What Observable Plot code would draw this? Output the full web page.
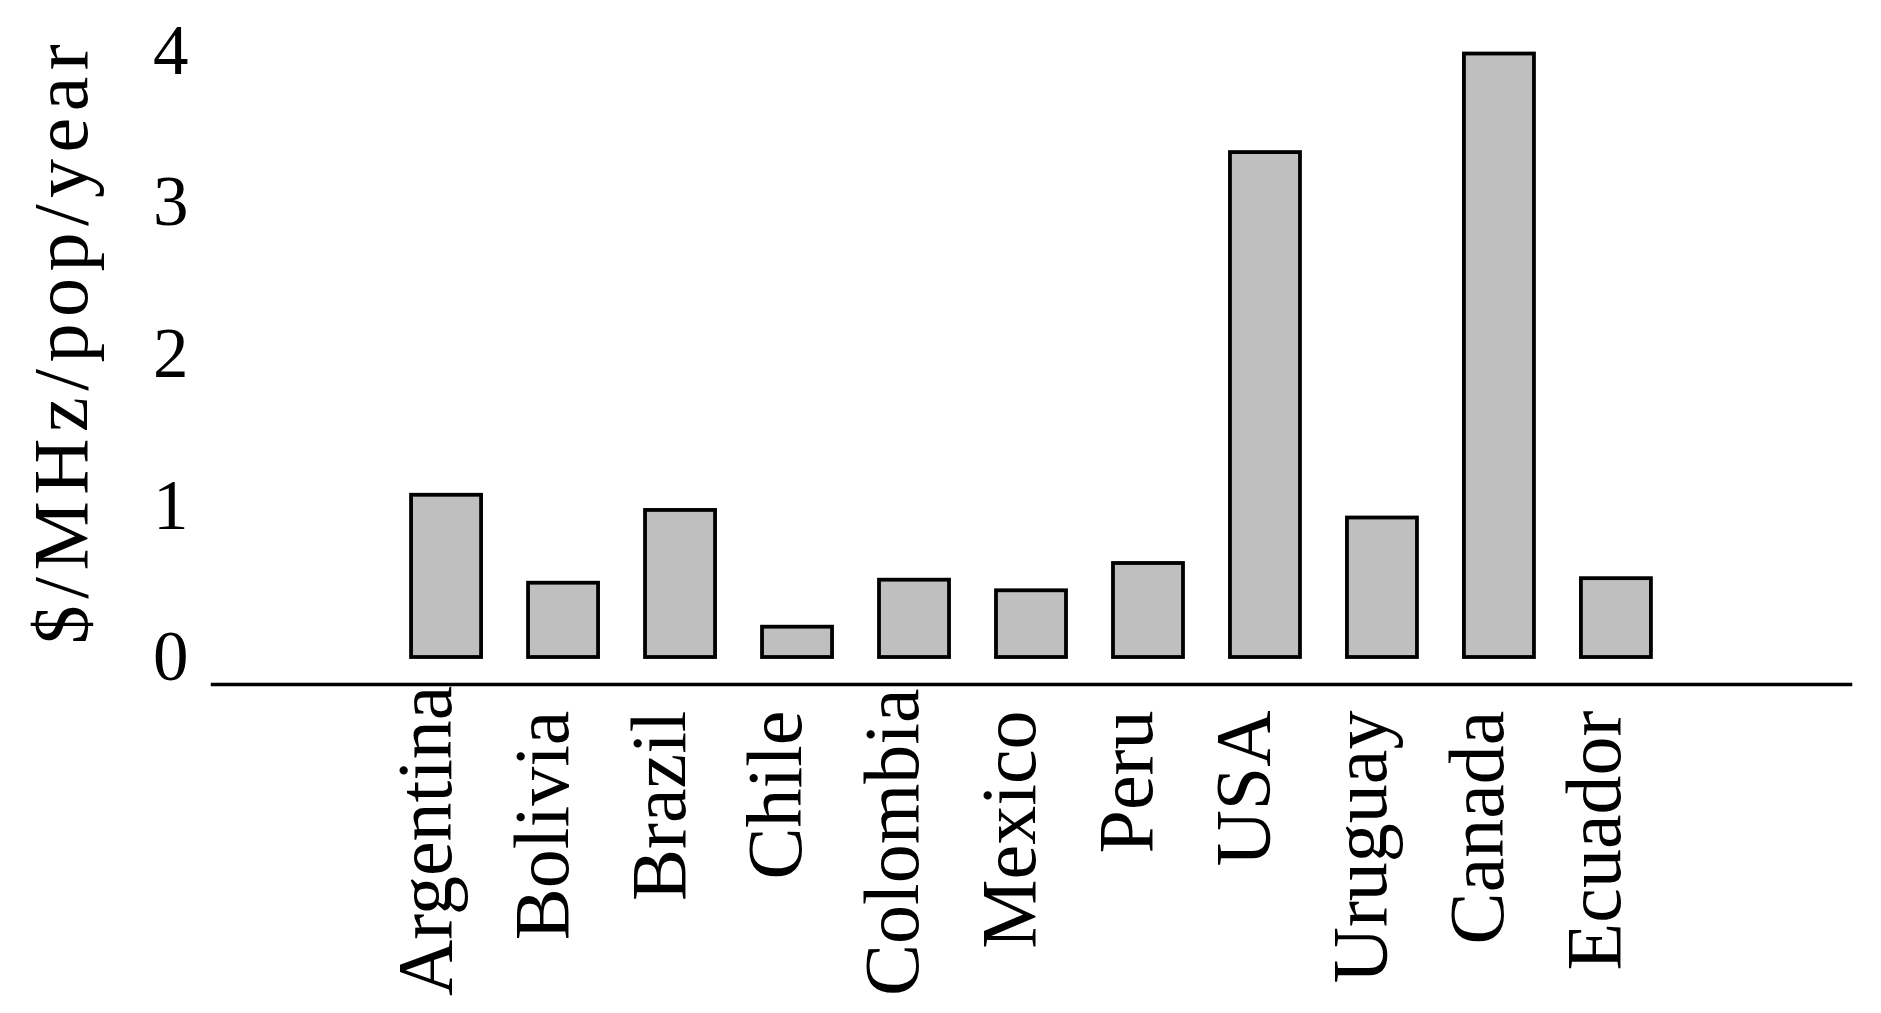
<!DOCTYPE html>
<html>
<head>
<meta charset="utf-8">
<script src="https://cdn.jsdelivr.net/npm/d3@7"></script>
<script src="https://cdn.jsdelivr.net/npm/@observablehq/plot@0.6"></script>
<style>
html, body { margin: 0; padding: 0; background: #fff; }
svg { display: block; }
</style>
</head>
<body>
<div id="chart"></div>
<script>
const countries = ["Argentina", "Bolivia", "Brazil", "Chile", "Colombia", "Mexico", "Peru", "USA", "Uruguay", "Canada", "Ecuador"];
const values = [1.07, 0.49, 0.97, 0.20, 0.51, 0.44, 0.62, 3.33, 0.92, 3.98, 0.52];
const yTicks = [0, 1, 2, 3, 4];
const yLabel = "$/MHz/pop/year";

const data = countries.map((c, i) => ({country: c, value: values[i]}));
const font = "'Liberation Serif', 'Times New Roman', serif";

const chart = Plot.plot({
  width: 1881,
  height: 1013,
  marginLeft: 212,
  marginRight: 31,
  marginTop: 5,
  marginBottom: 329,
  style: {fontFamily: font, background: "#fff", color: "#000", overflow: "visible"},
  x: {domain: countries, paddingInner: 0.4015, paddingOuter: 1.7016, round: false, axis: null},
  y: {domain: [-0.178, 4.30], axis: null},
  marks: [
    Plot.barY(data, {x: "country", y: "value", fill: "#bfbfbf", stroke: "#000", strokeWidth: 3.8}),
    Plot.frame({anchor: "bottom", stroke: "#000", strokeWidth: 3.5}),
    Plot.axisY({ticks: yTicks, tickFormat: d => String(d), anchor: "left", tickSize: 0, tickPadding: 24, fontSize: 71, label: null}),
    Plot.text([yLabel], {text: d => d, frameAnchor: "left", rotate: -90, lineAnchor: "top", textAnchor: "middle", dx: -181, dy: -4, fontSize: 78, fill: "#000"}),
    Plot.text(countries, {x: d => d, text: d => d, frameAnchor: "bottom", rotate: -90, textAnchor: "end", lineAnchor: "middle", dx: -21, dy: 26, fontSize: 78, fill: "#000"})
  ]
});

document.getElementById("chart").appendChild(chart);

// layout tweaks: spacing of the axis title, keep long category labels inside the picture
const texts = Array.from(chart.querySelectorAll("text"));
texts.filter(t => t.textContent === yLabel).forEach(t => t.setAttribute("letter-spacing", "6.5"));
const svgTop = chart.getBoundingClientRect().top;
texts.filter(t => countries.includes(t.textContent)).forEach(t => {
  const r = t.getBoundingClientRect();
  const bottom = r.bottom - svgTop;
  if (bottom > 996) {
    t.setAttribute("transform", `translate(0,${-(bottom - 996)}) ` + (t.getAttribute("transform") || ""));
  }
});
</script>
</body>
</html>
